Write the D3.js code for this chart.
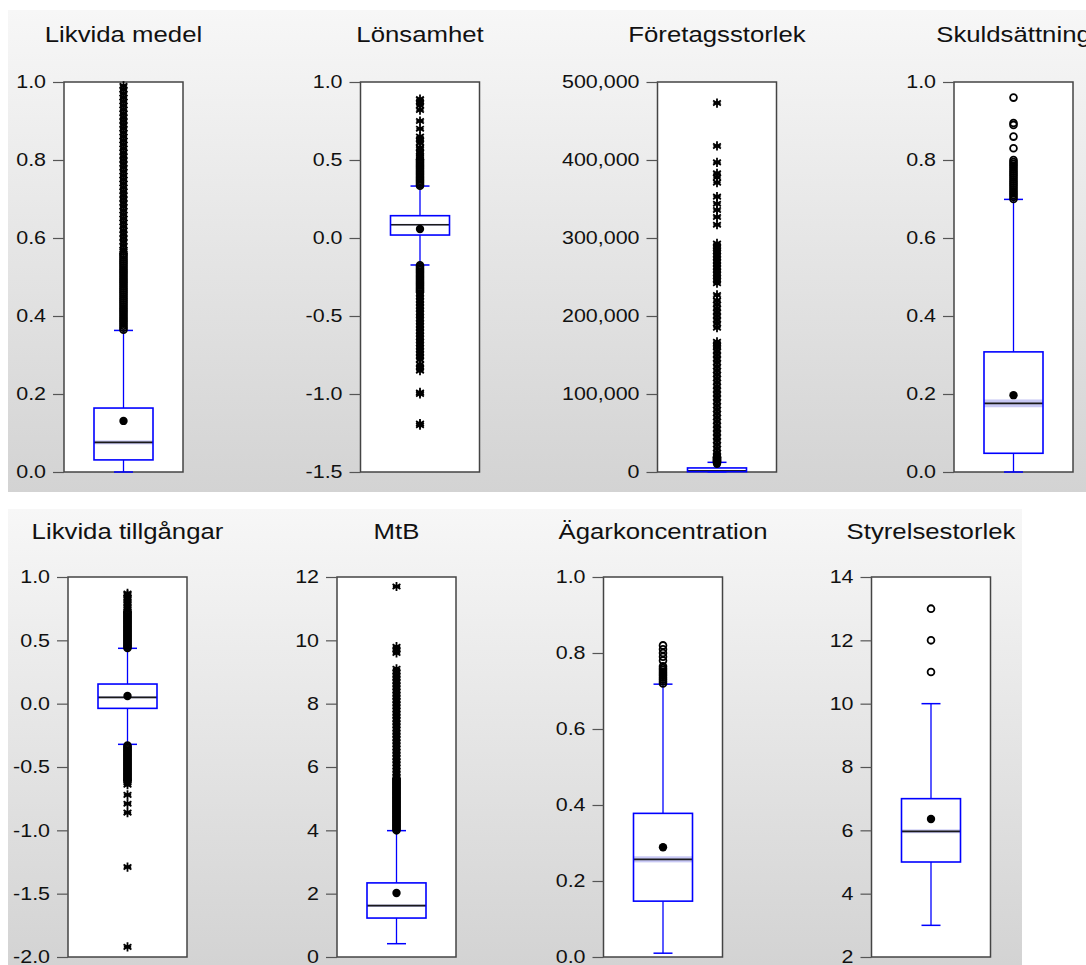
<!DOCTYPE html>
<html><head><meta charset="utf-8">
<script src="https://cdn.jsdelivr.net/npm/d3@7"></script>
<style>html,body{margin:0;padding:0;background:#fff;} svg{display:block;} text{font-family:"Liberation Sans",Arial,sans-serif;}</style>
</head><body><svg id="c" width="1086" height="965"></svg>
<script>
// ---------- DATA ----------
const titles = ["Likvida medel","Lönsamhet","Företagsstorlek","Skuldsättning","Likvida tillgångar","MtB","Ägarkoncentration","Styrelsestorlek"];
const q1Values      = [0.031, 0.019, 400,   0.048, -0.037, 1.23, 0.147, 5];
const medianValues  = [0.076, 0.085, 1500,  0.176,  0.050, 1.62, 0.257, 5.97];
const q3Values      = [0.164, 0.143, 5200,  0.308,  0.155, 2.34, 0.378, 7];
const meanValues    = [0.131, 0.058, 10500, 0.197,  0.060, 2.02, 0.289, 6.36];
const whiskerLow    = [0.0,  -0.173, 0,     0.0,   -0.321, 0.42, 0.010, 3];
const whiskerHigh   = [0.363, 0.333, 12400, 0.699,  0.437, 3.99, 0.718, 10];
const medianCI      = [0.005, 0.006, 250,   0.010,  0.008, 0.04, 0.008, 0.06];
const axisDomains   = [[0,1],[-1.5,1],[0,500000],[0,1],[-2,1],[0,12],[0,1],[2,14]];
const tickValues = [
  [0,0.2,0.4,0.6,0.8,1.0],
  [-1.5,-1.0,-0.5,0,0.5,1.0],
  [0,100000,200000,300000,400000,500000],
  [0,0.2,0.4,0.6,0.8,1.0],
  [-2.0,-1.5,-1.0,-0.5,0,0.5,1.0],
  [0,2,4,6,8,10,12],
  [0,0.2,0.4,0.6,0.8,1.0],
  [2,4,6,8,10,12,14]
];
const tickFormats = [".1f",".1f",",d",".1f",".1f","d",".1f","d"];

const outliersLikvidaMedel = [0.365,0.37,0.375,0.38,0.385,0.39,0.395,0.40,0.405,0.41,0.415,0.42,0.425,0.43,0.435,0.44,0.445,0.45,0.455,0.46,0.465,0.47,0.475,0.48,0.485,0.49,0.495,0.50,0.505,0.51,0.515,0.52,0.525,0.53,0.535,0.54,0.545,0.55,0.555,0.56,
  0.565,0.57,0.58,0.59,0.60,0.61,0.62,0.63,0.64,0.65,0.66,0.67,0.68,0.69,0.70,0.71,0.72,0.73,0.74,0.75,0.76,0.77,0.78,0.79,0.80,0.81,0.82,0.83,0.84,0.85,0.86,0.87,0.88,0.89,0.90,0.91,0.92,0.93,0.94,0.95,0.96,0.97,0.98,0.99];
const outliersLonsamhet = [0.335,0.345,0.355,0.365,0.375,0.385,0.395,0.405,0.415,0.425,0.435,0.445,0.455,0.465,0.475,0.485,0.495,0.505,0.515,0.53,0.55,0.57,0.58,0.61,0.63,0.65,0.70,0.75,0.82,0.85,0.87,0.89,
  -0.175,-0.185,-0.195,-0.205,-0.215,-0.225,-0.235,-0.245,-0.255,-0.265,-0.275,-0.285,-0.295,-0.305,-0.315,-0.325,-0.335,-0.345,
  -0.36,-0.38,-0.40,-0.42,-0.44,-0.46,-0.48,-0.50,-0.52,-0.54,-0.56,-0.58,-0.60,-0.62,-0.64,-0.66,-0.68,-0.70,-0.72,-0.74,-0.76,-0.78,-0.81,-0.83,-0.85,-0.99,-1.0,-1.19,-1.2];
const outliersForetagsstorlek = [12500,13500,14500,15500,16500,17500,18500,19500,
  21000,25000,30000,35000,40000,45000,50000,55000,60000,65000,70000,75000,80000,85000,90000,95000,100000,105000,110000,115000,120000,125000,130000,135000,140000,145000,150000,155000,160000,163000,167000,
  185000,190000,195000,200000,205000,210000,215000,220000,227000,
  242000,246000,250000,254000,258000,262000,266000,270000,274000,278000,282000,286000,289000,293000,
  317000,327000,336000,344000,353000,371000,378000,383000,397000,418000,473000];
const outliersSkuldsattning = [0.70,0.705,0.71,0.715,0.72,0.725,0.73,0.735,0.74,0.745,0.75,0.755,0.76,0.765,0.77,0.775,0.78,0.785,0.79,0.795,0.80,0.83,0.86,0.89,0.895,0.96];
const outliersLikvidaTillgangar = [0.44,0.45,0.46,0.47,0.48,0.49,0.50,0.51,0.52,0.53,0.54,0.55,0.56,0.57,0.58,0.59,0.60,0.61,0.62,0.63,0.64,0.65,0.66,0.67,0.68,0.69,0.70,0.71,0.72,0.73,
  0.74,0.76,0.78,0.80,0.82,0.84,0.86,0.87,
  -0.33,-0.34,-0.35,-0.36,-0.37,-0.38,-0.39,-0.40,-0.41,-0.42,-0.43,-0.44,-0.45,-0.46,-0.47,-0.48,-0.49,-0.50,-0.51,-0.52,-0.53,-0.54,-0.55,-0.56,-0.57,-0.58,-0.59,-0.60,-0.61,
  -0.62,-0.64,-0.72,-0.79,-0.86,-1.29,-1.92];
const outliersMtB = [4.00,4.04,4.08,4.12,4.16,4.20,4.24,4.28,4.32,4.36,4.40,4.44,4.48,4.52,4.56,4.60,4.64,4.68,4.72,4.76,4.80,4.84,4.88,4.92,4.96,5.00,5.04,5.08,5.12,5.16,5.20,5.24,5.28,5.32,5.36,5.40,5.44,5.48,5.52,5.56,5.60,5.64,
  5.7,5.8,5.9,6.0,6.1,6.2,6.3,6.4,6.5,6.6,6.7,6.8,6.9,7.0,7.1,7.2,7.3,7.4,7.5,7.6,7.7,7.8,7.9,8.0,8.1,8.2,8.3,8.4,8.5,
  8.6,8.7,8.8,8.9,9.0,9.1,9.6,9.7,9.8,11.7];
const outliersAgarkoncentration = [0.72,0.725,0.73,0.735,0.74,0.745,0.75,0.755,0.76,0.765,0.78,0.79,0.80,0.81,0.82];
const outliersStyrelsestorlek = [11,12,13];
const outliers = [outliersLikvidaMedel,outliersLonsamhet,outliersForetagsstorlek,outliersSkuldsattning,
                  outliersLikvidaTillgangar,outliersMtB,outliersAgarkoncentration,outliersStyrelsestorlek];

// ---------- LAYOUT ----------
const W = 1086, H = 965;
const panelLeft = [64,360.5,657.5,954, 68,337,603.5,871.5];
const panelTop  = [82,82,82,82, 577,577,577,577];
const panelH    = [390,390,390,390, 380,380,380,380];
const panelW = 119;
const titleDrop = [40,40,40,40,38,38,38,38];
const bands = [{x:8,y:10,w:1078,h:482},{x:8,y:509,w:1014,h:456}];

const svg = d3.select("#c");
const defs = svg.append("defs");
const grad = defs.append("linearGradient").attr("id","bg").attr("x1",0).attr("y1",0).attr("x2",0).attr("y2",1);
grad.append("stop").attr("offset","0%").attr("stop-color","#f7f7f7");
grad.append("stop").attr("offset","100%").attr("stop-color","#d3d3d3");

svg.append("rect").attr("width",W).attr("height",H).attr("fill","#fff");
svg.selectAll("rect.band").data(bands).join("rect").attr("class","band")
  .attr("x",d=>d.x).attr("y",d=>d.y).attr("width",d=>d.w).attr("height",d=>d.h).attr("fill","url(#bg)");

const loc = d3.formatLocale({decimal:".",thousands:",",grouping:[3],currency:["",""],minus:"-"});
const FONT = '"Liberation Sans", Arial, sans-serif';
const BLUE = "#0000ff";

function asterisk(s){
  const dx = s*0.85, dy = s*0.55;
  return `M0,${-s}L0,${s}M${-dx},${-dy}L${dx},${dy}M${-dx},${dy}L${dx},${-dy}M${-s*0.8},0L${s*0.8},0`;
}

titles.forEach((title,i)=>{
  const h = panelH[i], w = panelW;
  const g = svg.append("g").attr("transform",`translate(${panelLeft[i]},${panelTop[i]})`);
  const y = d3.scaleLinear().domain(axisDomains[i]).range([h,0]);
  const cx = w/2, bw = 59, cap = 19;

  // title
  svg.append("text")
    .attr("transform",`translate(${panelLeft[i]+w/2},${panelTop[i]-titleDrop[i]}) scale(1.12,1)`)
    .attr("text-anchor","middle").attr("font-size",23).attr("fill","#111").attr("font-family",FONT)
    .text(title);

  // frame
  g.append("rect").attr("x",0).attr("y",0).attr("width",w).attr("height",h)
    .attr("fill","#fff").attr("stroke","#444").attr("stroke-width",1.5);

  // axis
  const ax = g.append("g").attr("font-family",FONT).attr("font-size",18)
    .call(d3.axisLeft(y).tickValues(tickValues[i]).tickSize(11).tickFormat(loc.format(tickFormats[i])));
  ax.select(".domain").remove();
  ax.selectAll(".tick line").attr("stroke","#555").attr("stroke-width",1.2);
  ax.selectAll(".tick text").attr("fill","#111").attr("font-size",18.5).attr("font-family",FONT)
    .attr("x",-15.5).attr("transform","scale(1.16,1)");

  const q1 = q1Values[i], q3 = q3Values[i], med = medianValues[i];
  const iqr = q3 - q1;
  const farHi = q3 + 3*iqr, farLo = q1 - 3*iqr;

  // whiskers
  g.append("line").attr("x1",cx).attr("x2",cx).attr("y1",y(q3)).attr("y2",y(whiskerHigh[i])).attr("stroke",BLUE).attr("stroke-width",1.3);
  g.append("line").attr("x1",cx).attr("x2",cx).attr("y1",y(q1)).attr("y2",y(whiskerLow[i])).attr("stroke",BLUE).attr("stroke-width",1.3);
  [whiskerHigh[i], whiskerLow[i]].forEach(v=>{
    g.append("line").attr("x1",cx-cap/2).attr("x2",cx+cap/2).attr("y1",y(v)).attr("y2",y(v)).attr("stroke",BLUE).attr("stroke-width",1.5);
  });

  // box
  g.append("rect").attr("x",cx-bw/2).attr("width",bw)
    .attr("y",y(q3)).attr("height",Math.max(1,y(q1)-y(q3)))
    .attr("fill","#fff").attr("stroke","none");
  // median CI band
  g.append("rect").attr("x",cx-bw/2).attr("width",bw)
    .attr("y",y(med+medianCI[i])).attr("height",Math.max(1.5,y(med-medianCI[i])-y(med+medianCI[i])))
    .attr("fill","#c8c8f4");
  g.append("line").attr("x1",cx-bw/2).attr("x2",cx+bw/2).attr("y1",y(med)).attr("y2",y(med))
    .attr("stroke","#1a1a1a").attr("stroke-width",1.7);
  g.append("rect").attr("x",cx-bw/2).attr("width",bw)
    .attr("y",y(q3)).attr("height",Math.max(1,y(q1)-y(q3)))
    .attr("fill","none").attr("stroke",BLUE).attr("stroke-width",1.6);

  // outliers
  const near = outliers[i].filter(v=>v<=farHi && v>=farLo);
  const far = outliers[i].filter(v=>v>farHi || v<farLo);
  g.selectAll("circle.near").data(near).join("circle").attr("class","near")
    .attr("cx",cx).attr("cy",d=>y(d)).attr("r",3.4)
    .attr("fill","none").attr("stroke","#000").attr("stroke-width",1.8);
  g.selectAll("path.far").data(far).join("path").attr("class","far")
    .attr("transform",d=>`translate(${cx},${y(d)})`).attr("d",asterisk(4.6))
    .attr("fill","none").attr("stroke","#000").attr("stroke-width",1.8);

  // mean
  g.append("circle").attr("cx",cx).attr("cy",y(meanValues[i])).attr("r",4.2).attr("fill","#000");
});
</script></body></html>
